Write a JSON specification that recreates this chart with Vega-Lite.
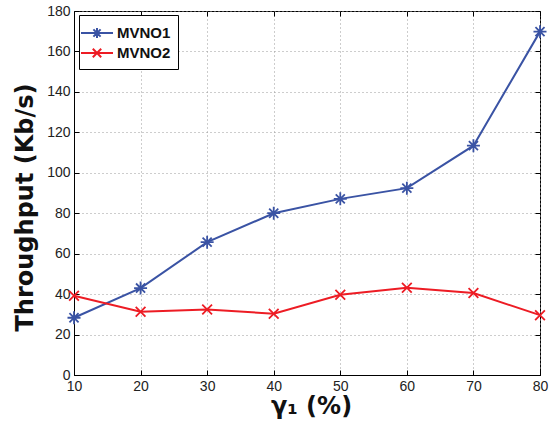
{
  "$schema": "https://vega.github.io/schema/vega-lite/v6.json",
  "width": 466,
  "height": 364,
  "autosize": {"type": "none"},
  "padding": {"left": 74, "top": 11, "right": 12, "bottom": 48},
  "background": "white",
  "data": {
    "values": [
      {"gamma": 10, "series": "MVNO1", "throughput": 28.3},
      {"gamma": 20, "series": "MVNO1", "throughput": 43.0},
      {"gamma": 30, "series": "MVNO1", "throughput": 65.7},
      {"gamma": 40, "series": "MVNO1", "throughput": 80.0},
      {"gamma": 50, "series": "MVNO1", "throughput": 87.1},
      {"gamma": 60, "series": "MVNO1", "throughput": 92.4},
      {"gamma": 70, "series": "MVNO1", "throughput": 113.4},
      {"gamma": 80, "series": "MVNO1", "throughput": 169.8},
      {"gamma": 10, "series": "MVNO2", "throughput": 39.2},
      {"gamma": 20, "series": "MVNO2", "throughput": 31.3},
      {"gamma": 30, "series": "MVNO2", "throughput": 32.4},
      {"gamma": 40, "series": "MVNO2", "throughput": 30.3},
      {"gamma": 50, "series": "MVNO2", "throughput": 39.7},
      {"gamma": 60, "series": "MVNO2", "throughput": 43.1},
      {"gamma": 70, "series": "MVNO2", "throughput": 40.5},
      {"gamma": 80, "series": "MVNO2", "throughput": 29.6}
    ]
  },
  "config": {
    "view": {"stroke": "black", "strokeWidth": 1},
    "axis": {
      "labelFont": "Liberation Sans",
      "labelFontSize": 14,
      "labelColor": "#222222",
      "labelFlush": false,
      "domainColor": "black",
      "tickColor": "black",
      "tickSize": -5,
      "gridColor": "#9a9a9a",
      "gridDash": [1, 3],
      "gridWidth": 1,
      "titleColor": "#111111"
    },
    "legend": {
      "orient": "none",
      "legendX": 5,
      "legendY": 4,
      "title": null,
      "fillColor": "white",
      "strokeColor": "black",
      "padding": 7,
      "rowPadding": 0,
      "cornerRadius": 0,
      "symbolSize": 400,
      "symbolStrokeWidth": 2,
      "labelFont": "Liberation Sans",
      "labelFontSize": 15,
      "labelFontWeight": "bold",
      "labelColor": "#111111",
      "labelOffset": 9
    }
  },
  "layer": [
    {
      "mark": {"type": "line", "strokeWidth": 2},
      "encoding": {
        "x": {
          "field": "gamma",
          "type": "quantitative",
          "scale": {"domain": [10, 80], "nice": false},
          "axis": {
            "values": [10, 20, 30, 40, 50, 60, 70, 80],
            "grid": true,
            "title": "γ₁ (%)",
            "titleFont": "DejaVu Sans",
            "titleFontWeight": "bold",
            "titleFontSize": 24,
            "titlePadding": 1,
            "titleX": 237,
            "labelPadding": 9
          }
        },
        "y": {
          "field": "throughput",
          "type": "quantitative",
          "scale": {"domain": [0, 180], "nice": false},
          "axis": {
            "values": [0, 20, 40, 60, 80, 100, 120, 140, 160, 180],
            "grid": true,
            "title": "Throughput (Kb/s)",
            "titleFont": "DejaVu Sans",
            "titleFontWeight": "bold",
            "titleFontSize": 24,
            "titlePadding": 9,
            "titleY": 196,
            "labelPadding": 9
          }
        },
        "color": {
          "field": "series",
          "type": "nominal",
          "scale": {"domain": ["MVNO1", "MVNO2"], "range": ["#3a53a4", "#ed1c24"]},
          "legend": null
        }
      }
    },
    {
      "mark": {"type": "point", "filled": false, "strokeWidth": 1.8, "size": 169, "opacity": 1},
      "encoding": {
        "x": {
          "field": "gamma",
          "type": "quantitative",
          "axis": {"orient": "top", "values": [10, 20, 30, 40, 50, 60, 70, 80], "labels": false, "grid": false, "title": null, "domain": false}
        },
        "y": {
          "field": "throughput",
          "type": "quantitative",
          "axis": {"orient": "right", "values": [0, 20, 40, 60, 80, 100, 120, 140, 160, 180], "labels": false, "grid": false, "title": null, "domain": false}
        },
        "color": {
          "field": "series",
          "type": "nominal",
          "scale": {"domain": ["MVNO1", "MVNO2"], "range": ["#3a53a4", "#ed1c24"]},
          "legend": null
        },
        "shape": {
          "field": "series",
          "type": "nominal",
          "scale": {
            "domain": ["MVNO1", "MVNO2"],
            "range": [
              "M-1,0H1M0,-1V1M-0.7,-0.7L0.7,0.7M-0.7,0.7L0.7,-0.7",
              "M-0.75,-0.75L0.75,0.75M-0.75,0.75L0.75,-0.75"
            ]
          },
          "legend": null
        }
      }
    },
    {
      "mark": {"type": "point", "filled": false, "strokeWidth": 2, "size": 400, "opacity": 0},
      "encoding": {
        "x": {"field": "gamma", "type": "quantitative", "axis": null},
        "y": {"field": "throughput", "type": "quantitative", "axis": null},
        "color": {
          "field": "series",
          "type": "nominal",
          "scale": {"domain": ["MVNO1", "MVNO2"], "range": ["#3a53a4", "#ed1c24"]},
          "legend": {"title": null}
        },
        "shape": {
          "field": "series",
          "type": "nominal",
          "scale": {
            "domain": ["MVNO1", "MVNO2"],
            "range": [
              "M-1.6,0H1.6M-0.5,0H0.5M0,-0.5V0.5M-0.36,-0.36L0.36,0.36M-0.36,0.36L0.36,-0.36",
              "M-1.6,0H1.6M-0.42,-0.42L0.42,0.42M-0.42,0.42L0.42,-0.42"
            ]
          },
          "legend": {"title": null}
        }
      }
    }
  ],
  "resolve": {
    "scale": {"color": "independent", "shape": "independent"},
    "axis": {"x": "independent", "y": "independent"}
  }
}
